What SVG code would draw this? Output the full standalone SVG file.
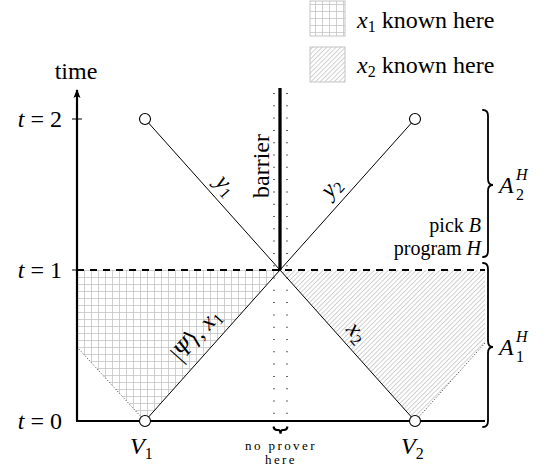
<svg xmlns="http://www.w3.org/2000/svg" width="549" height="472" viewBox="0 0 549 472">
<style>
text{font-family:"Liberation Serif","DejaVu Serif",serif;fill:#000;font-size:24px}
.it{font-style:italic}
.thin{stroke:#000;stroke-width:1;fill:none}
.thick{stroke:#000;stroke-width:2.2;fill:none}
.dots{stroke:#000;stroke-width:1.2;stroke-dasharray:1 11.3;fill:none}
.fdots{stroke:#222;stroke-width:0.9;stroke-dasharray:1 2;fill:none}
.brace{stroke:#000;stroke-width:1.8;fill:none;stroke-linecap:round}
.pt{fill:#fff;stroke:#000;stroke-width:1.1}
.small{font-size:13px;letter-spacing:2.4px}
.sub{font-size:16px}
.note{font-size:20px}
</style>
<defs>
<pattern id="grid" x="77" y="270" width="7" height="7" patternUnits="userSpaceOnUse">
<path d="M0 0.4H7M0.4 0V7" stroke="#c4c4c4" stroke-width="0.9" fill="none"/>
</pattern>
<pattern id="hatch" width="3.3" height="3.3" patternUnits="userSpaceOnUse" patternTransform="rotate(45)">
<line x1="0.5" y1="0" x2="0.5" y2="3.3" stroke="#bdbdbd" stroke-width="0.7"/>
</pattern>
<marker id="arr" markerWidth="10" markerHeight="10" refX="8" refY="5" orient="auto" markerUnits="userSpaceOnUse">
<path d="M0 1.5 L9 5 L0 8.5 L2 5 Z" fill="#000"/>
</marker>
</defs>

<g id="legend">
<rect x="310" y="1" width="35" height="35" fill="url(#grid)" stroke="#c4c4c4" stroke-width="1"/>
<text x="357" y="28"><tspan class="it">x</tspan><tspan class="sub" dy="4">1</tspan><tspan dy="-4"> known here</tspan></text>
<rect x="310" y="47" width="35" height="35" fill="url(#hatch)" stroke="#c4c4c4" stroke-width="1"/>
<text x="357" y="73"><tspan class="it">x</tspan><tspan class="sub" dy="4">2</tspan><tspan dy="-4"> known here</tspan></text>
</g>

<g id="regions">
<polygon points="77,270 280,270 145,421 77,347" fill="url(#grid)"/>
<polygon points="280,270 485,270 485,343 415,421" fill="url(#hatch)"/>
<path class="fdots" d="M77 347 L143 419"/>
<path class="fdots" d="M485 343 L417 419"/>
</g>

<g id="axes">
<path class="thick" d="M77 421 V90" marker-end="url(#arr)"/>
<path class="thick" d="M76 421 H485"/>
<path class="thin" d="M72 119 H82 M72 270 H82" stroke-width="1.2"/>
<text x="76" y="79" text-anchor="middle">time</text>
<text x="62" y="127" text-anchor="end"><tspan class="it">t</tspan> = 2</text>
<text x="62" y="278" text-anchor="end"><tspan class="it">t</tspan> = 1</text>
<text x="62" y="429" text-anchor="end"><tspan class="it">t</tspan> = 0</text>
</g>

<g id="connectors">
<path d="M77 270 H485" stroke="#000" stroke-width="2.2" stroke-dasharray="7 6"/>
<path class="thin" d="M145 119 L415 421"/>
<path class="thin" d="M145 421 L415 119"/>
<path class="dots" d="M274 93 V416"/>
<path class="dots" d="M287 93 V416"/>
</g>

<g id="barrier">
<path d="M280 88 V270" stroke="#000" stroke-width="3.3"/>
<text transform="translate(269,166) rotate(-90)" text-anchor="middle">barrier</text>
</g>

<g id="edge-labels">
<text transform="translate(225,186) rotate(48.2)" text-anchor="middle" y="6"><tspan class="it">y</tspan><tspan class="sub" dy="4">1</tspan></text>
<text transform="translate(332,188) rotate(-48.2)" text-anchor="middle" y="6"><tspan class="it">y</tspan><tspan class="sub" dy="4">2</tspan></text>
<text transform="translate(197,336) rotate(-48.2)" text-anchor="middle" y="6">|<tspan class="it">Ψ</tspan>⟩, <tspan class="it">x</tspan><tspan class="sub" dy="4">1</tspan></text>
<text transform="translate(356,333) rotate(48.2)" text-anchor="middle" y="6"><tspan class="it">x</tspan><tspan class="sub" dy="4">2</tspan></text>
</g>

<g id="V1-top"><circle class="pt" cx="145" cy="119" r="5.5"/></g>
<g id="V2-top"><circle class="pt" cx="415" cy="119" r="5.5"/></g>
<g id="V1">
<circle class="pt" cx="145" cy="421" r="5.5"/>
<text x="130" y="454"><tspan class="it">V</tspan><tspan class="sub" dy="5">1</tspan></text>
</g>
<g id="V2">
<circle class="pt" cx="415" cy="421" r="5.5"/>
<text x="401" y="454"><tspan class="it">V</tspan><tspan class="sub" dy="5">2</tspan></text>
</g>

<g id="no-prover">
<path d="M273.5 426.5 Q274 430 277 430 L278.5 430 Q280 430 280.5 433.5 Q281 430 282.5 430 L284 430 Q287 430 287.5 426.5" stroke="#000" stroke-width="2" fill="none"/>
<text class="small" x="281" y="450" text-anchor="middle">no prover</text>
<text class="small" x="281" y="464" text-anchor="middle">here</text>
</g>

<g id="A2">
<path class="brace" d="M483 110 Q488 110 488 116 L488 179 Q488 185 493 185 Q488 185 488 191 L488 251 Q488 257 483 257"/>
<text class="note" x="481" y="232" text-anchor="end">pick <tspan class="it">B</tspan></text>
<text class="note" x="481" y="255" text-anchor="end">program <tspan class="it">H</tspan></text>
<text x="499" y="193"><tspan class="it">A</tspan></text>
<text x="516" y="180" class="sub it">H</text>
<text x="516" y="200" class="sub">2</text>
</g>

<g id="A1">
<path class="brace" d="M483 263 Q488 263 488 269 L488 341 Q488 347 493 347 Q488 347 488 353 L488 421 Q488 427 483 427"/>
<text x="499" y="355"><tspan class="it">A</tspan></text>
<text x="516" y="342" class="sub it">H</text>
<text x="516" y="362" class="sub">1</text>
</g>
</svg>
